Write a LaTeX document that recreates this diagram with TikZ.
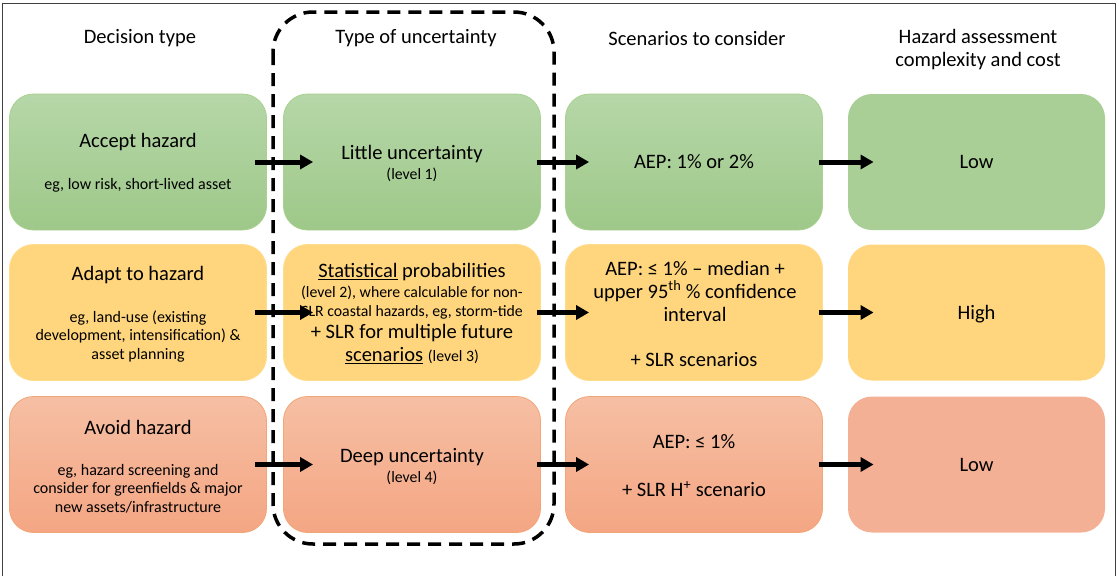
\documentclass[tikz,border=0pt]{standalone}
\usepackage{fontspec}
\setmainfont{Carlito}
\usetikzlibrary{arrows.meta}
\definecolor{grtop}{RGB}{182,215,168}
\definecolor{grbot}{RGB}{158,200,137}
\definecolor{grline}{RGB}{169,208,142}
\definecolor{grflat}{RGB}{169,207,151}
\definecolor{yel}{RGB}{255,214,125}
\definecolor{yelline}{RGB}{255,220,140}
\definecolor{ortop}{RGB}{246,191,164}
\definecolor{orbot}{RGB}{244,166,131}
\definecolor{orline}{RGB}{242,165,118}
\definecolor{orflat}{RGB}{244,176,148}
\newcommand\bigtext{\fontsize{20.5}{23}\selectfont}
\newcommand\egtext{\fontsize{16}{18.5}\selectfont}
\newcommand\lvltext{\fontsize{15.8}{19}\selectfont}
\tikzset{
	cell/.style={rounded corners=24pt,minimum width=257pt,minimum height=136pt,line width=.8pt},
	greenbox/.style={cell,draw=grline,top color=grtop,bottom color=grbot},
	yellowbox/.style={cell,draw=yelline,fill=yel},
	redbox/.style={cell,draw=orline,top color=ortop,bottom color=orbot},
	big/.style={font=\bigtext,align=center},
	eg/.style={font=\egtext,align=center},
	lvl/.style={font=\lvltext,align=center},
	flow/.style={line width=5pt,-{Triangle[length=13pt,width=14pt]}}
}
\begin{document}
\begin{tikzpicture}[x=1pt,y=-1pt]
	\useasboundingbox (0,0) rectangle (1119,576);
	\draw[black!75,line width=1pt] (2,576)--(2,3)--(1115,3)--(1115,576);
	\foreach \c/\x in {a/138,b/412,c/694}{
		\node[greenbox] (\c1) at (\x,162) {};
		\node[yellowbox] (\c2) at (\x,312.5) {};
		\node[redbox] (\c3) at (\x,464.5) {};
	}
	\node[cell,fill=grflat] (d1) at (976.5,162) {};
	\node[cell,fill=yel] (d2) at (976.5,312.5) {};
	\node[cell,fill=orflat] (d3) at (976.5,464.5) {};
	\draw[line width=3.5pt,dash pattern=on 13pt off 8pt,rounded corners=40pt] (273,12) rectangle (554,544);
	\path
	(140,38) node[big] (h1) {Decision type}
	(416,38) node[big] (h2) {Type of uncertainty}
	(697,38) node[big] (h3) {Scenarios to consider}
	(978,50) node[big] (h4) {Hazard assessment\\complexity and cost}
	(138,142) node[big] (t11) {Accept hazard}
	(138,185) node[eg] (t12) {eg, low risk, short-lived asset}
	(412,154) node[big] (u11) {Little uncertainty}
	(412,175) node[lvl] (u12) {(level 1)}
	(694,162) node[big] (s11) {AEP: 1\% or 2\%}
	(976.5,162) node[big] (k1) {Low}
	(138,275) node[big] (t21) {Adapt to hazard}
	(138,336.5) node[eg] (t22) {eg, land-use (existing\\development, intensification) \&\\asset planning}
	(412,272) node[big] (u21) {\underline{Statistical} probabilities}
	(412,303) node[lvl] (u22) {(level 2), where calculable for non-\\SLR coastal hazards, eg, storm-tide}
	(412,333) node[big] (u23) {+ SLR for multiple future}
	(412,356) node[big] (u24) {\underline{scenarios} {\lvltext (level 3)}}
	(695,291) node[big] (s21) {AEP: ≤ 1\% – median +\\upper 95\textsuperscript{th} \% confidence\\interval}
	(694,360) node[big] (s22) {+ SLR scenarios}
	(976.5,314) node[big] (k2) {High}
	(138,427) node[big] (t31) {Avoid hazard}
	(138,488.5) node[eg] (t32) {eg, hazard screening and\\consider for greenfields \& major\\new assets/infrastructure}
	(412,457) node[big] (u31) {Deep uncertainty}
	(412,478) node[lvl] (u32) {(level 4)}
	(694,442) node[big] (s31) {AEP: ≤ 1\%}
	(694,489) node[big] (s32) {+ SLR H\textsuperscript{+} scenario}
	(976.5,465) node[big] (k3) {Low}
	;
	\foreach \r in {1,2,3}{
		\draw[flow] ([xshift=-12pt]a\r.east)--([xshift=30pt]b\r.west);
		\draw[flow] ([xshift=-4pt]b\r.east)--([xshift=24pt]c\r.west);
		\draw[flow] ([xshift=-4pt]c\r.east)--([xshift=26pt]d\r.west);
	}
	%\draw[help lines,step=50] (0,0) grid (1119,576);
\end{tikzpicture}
\end{document}
